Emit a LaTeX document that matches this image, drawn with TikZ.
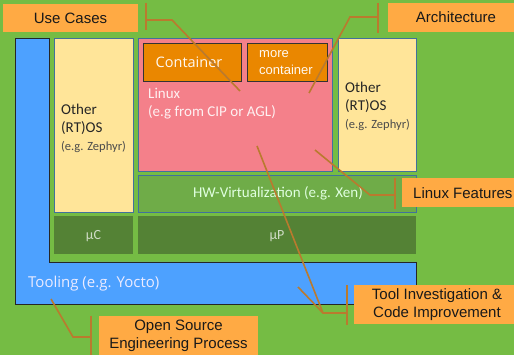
\documentclass[tikz,border=0pt]{standalone}
\usepackage{fontspec}
\setmainfont{Carlito}
\newfontfamily\labfont{Liberation Sans}
\newfontfamily\segfont{Open Sans}
\definecolor{bggreen}{RGB}{117,188,68}
\definecolor{toolblue}{RGB}{77,161,255}
\definecolor{osyellow}{RGB}{255,229,153}
\definecolor{linuxpink}{RGB}{244,128,138}
\definecolor{contorange}{RGB}{234,135,0}
\definecolor{laborange}{RGB}{255,170,68}
\definecolor{hwgreen}{RGB}{111,172,72}
\definecolor{mugreen}{RGB}{84,130,53}
\definecolor{edgeblue}{RGB}{65,113,156}
\definecolor{linkbrown}{RGB}{186,122,46}
\tikzset{
  blk/.style={inner sep=0pt, outer sep=0pt, anchor=north west},
  ostxt/.style={font=\fontsize{15}{18}\selectfont, text=black!85, align=left},
  lab/.style={blk, fill=laborange, font=\labfont\fontsize{15}{18}\selectfont, align=center, text=black!90},
  link/.style={draw=linkbrown, line width=1.6pt},
}
\begin{document}
\begin{tikzpicture}[x=1pt,y=-1pt]
\useasboundingbox (0,0) rectangle (514,355);
\clip (0,0) rectangle (514,355);
\fill[bggreen] (0,0) rectangle (514,355);
% tooling L shape
\draw[fill=toolblue, draw=black!85, line width=0.8pt] (15,38) -- (49,38) -- (49,262) -- (416,262) -- (416,304) -- (15,304) -- cycle;
\node[anchor=west, font=\segfont\fontsize{15}{18}\selectfont, text=white!92!blue, inner sep=0pt] (tooling) at (28,284) {Tooling (e.g. Yocto)};
% other RTOS left
\node[blk, fill=osyellow, draw=edgeblue, line width=0.7pt, minimum width=79pt, minimum height=174pt] (osl) at (54,38) {};
\node[ostxt, anchor=west, inner sep=0pt] (osltxt) at (61,128) {Other\\(RT)OS\\{\fontsize{12.5}{17}\selectfont\color{black!70}(e.g. Zephyr)}};
% linux
\node[blk, fill=linuxpink, draw=edgeblue, line width=0.7pt, minimum width=194pt, minimum height=133pt] (linux) at (138,38) {};
\node[anchor=north west, inner sep=0pt, align=left, font=\fontsize{15}{18}\selectfont, text=white!88!linuxpink] (linuxtxt) at (148,88) {Linux\\(e.g from CIP or AGL)};
\node[blk, fill=contorange, draw=black!80, line width=0.8pt, minimum width=98pt, minimum height=38pt] (cont) at (143,43) {};
\node[font=\segfont\fontsize{14.5}{17}\selectfont, text=white!95!orange, inner sep=0pt] (conttxt) at (189,62) {Container};
\node[blk, fill=contorange, draw=black!80, line width=0.8pt, minimum width=80pt, minimum height=38pt] (more) at (247,43) {};
\node[anchor=west, align=left, inner sep=0pt, font=\labfont\fontsize{13}{17}\selectfont, text=white!95!orange] (moretxt) at (259,62.5) {more\\container};
% other RTOS right
\node[blk, fill=osyellow, draw=edgeblue, line width=0.7pt, minimum width=78pt, minimum height=133pt] (osr) at (338,38) {};
\node[ostxt, anchor=west, inner sep=0pt] (osrtxt) at (345,106) {Other\\(RT)OS\\{\fontsize{12.5}{17}\selectfont\color{black!70}(e.g. Zephyr)}};
% HW virtualization
\node[blk, fill=hwgreen, draw=edgeblue, line width=0.7pt, minimum width=278pt, minimum height=37pt] (hw) at (138,175) {};
\node[font=\fontsize{15}{18}\selectfont, text=white!88!green, inner sep=0pt] (hwtxt) at (278,193.5) {HW-Virtualization (e.g. Xen)};
% uC uP
\node[blk, fill=mugreen, minimum width=79pt, minimum height=38pt] (muc) at (54,216) {};
\node[font=\fontsize{14}{17}\selectfont, text=white!72!mugreen, inner sep=0pt] (muctxt) at (93.5,236) {µC};
\node[blk, fill=mugreen, minimum width=278pt, minimum height=38pt] (mup) at (138,216) {};
\node[font=\fontsize{14}{17}\selectfont, text=white!72!mugreen, inner sep=0pt] (muptxt) at (277,236) {µP};
% labels
\node[lab, minimum width=135pt, minimum height=28pt] (uc) at (3,4) {};
\node[font=\labfont\fontsize{15}{18}\selectfont, inner sep=0pt, text=black!90] (uctxt) at (70.5,18.5) {Use Cases};
\node[lab, minimum width=136pt, minimum height=29pt] (arch) at (388,3) {};
\node[font=\labfont\fontsize{15}{18}\selectfont, inner sep=0pt, text=black!90] (archtxt) at (456,17.5) {Architecture};
\node[lab, minimum width=122pt, minimum height=29pt] (lf) at (402,178) {};
\node[font=\labfont\fontsize{15}{18}\selectfont, inner sep=0pt, text=black!90, anchor=west] (lftxt) at (413,193.5) {Linux Features};
\node[lab, minimum width=166pt, minimum height=39pt] (tool) at (354,285) {};
\node[font=\labfont\fontsize{15}{18}\selectfont, inner sep=0pt, text=black!90, align=center] (tooltxt) at (437,305) {Tool Investigation \&\\Code Improvement};
\node[lab, minimum width=159pt, minimum height=45pt] (osep) at (99,316) {};
\node[font=\labfont\fontsize{15}{18}\selectfont, inner sep=0pt, text=black!90, align=center] (oseptxt) at (178.5,336) {Open Source\\Engineering Process};
% connectors
\coordinate (ucbt) at (146,3); \coordinate (ucbb) at (146,30); \coordinate (ucbm) at (146,20);
\coordinate (ucknee) at (172,20); \coordinate (ucend) at (240,91);
\draw[link] (ucbt) -- (ucbb);
\draw[link] (ucbm) -- (ucknee) -- (ucend);
\coordinate (arbt) at (378,3); \coordinate (arbb) at (378,33); \coordinate (arbm) at (378,17);
\coordinate (arknee) at (350,17); \coordinate (arend) at (309,93);
\draw[link] (arbt) -- (arbb);
\draw[link] (arbm) -- (arknee) -- (arend);
\coordinate (lfbt) at (395,178); \coordinate (lfbb) at (395,209); \coordinate (lfbm) at (395,195);
\coordinate (lfknee) at (370,195); \coordinate (lfend) at (315,150);
\draw[link] (lfbt) -- (lfbb);
\draw[link] (lfbm) -- (lfknee) -- (lfend);
\coordinate (tibt) at (347,285); \coordinate (tibb) at (347,325); \coordinate (tibm) at (347,313);
\coordinate (tiknee) at (323,313); \coordinate (tiend1) at (298,287); \coordinate (tiend2) at (257,146);
\draw[link] (tibt) -- (tibb);
\draw[link] (tibm) -- (tiknee) -- (tiend1);
\draw[link] (tiknee) -- (tiend2);
\coordinate (osbt) at (91,316); \coordinate (osbb) at (91,355); \coordinate (osbm) at (91,337);
\coordinate (osknee) at (73,337); \coordinate (osend) at (51,299);
\draw[link] (osbt) -- (osbb);
\draw[link] (osbm) -- (osknee) -- (osend);
\end{tikzpicture}
\end{document}
